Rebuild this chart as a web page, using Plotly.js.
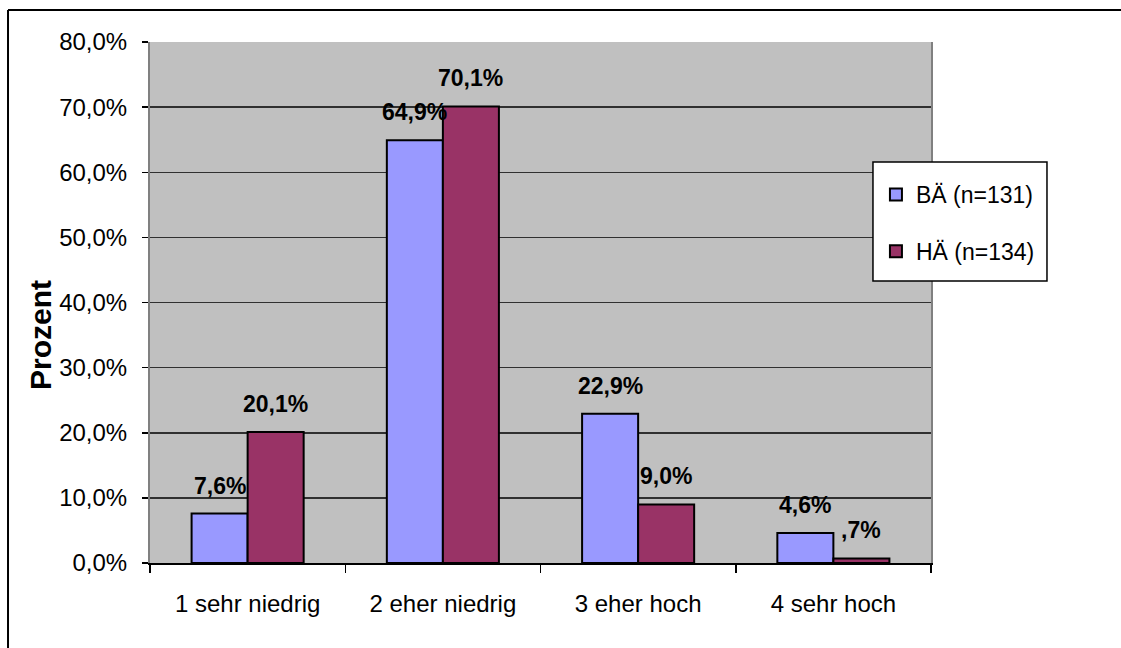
<!DOCTYPE html>
<html>
<head>
<meta charset="utf-8">
<script src="https://cdn.plot.ly/plotly-3.0.1.min.js"></script>
<style>html,body{margin:0;padding:0;background:#fff}#chart{width:1121px;height:648px}</style>
</head>
<body>
<div id="chart"></div>
<script>
const categories = ["1 sehr niedrig", "2 eher niedrig", "3 eher hoch", "4 sehr hoch"];
const seriesNames = ["BÄ (n=131)", "HÄ (n=134)"];
const valuesBA = [7.6, 64.9, 22.9, 4.6];
const valuesHA = [20.1, 70.1, 9.0, 0.7];
const labelsBA = ["7,6%", "64,9%", "22,9%", "4,6%"];
const labelsHA = ["20,1%", "70,1%", "9,0%", ",7%"];
const yTickVals = [0, 10, 20, 30, 40, 50, 60, 70, 80];
const yTickLabels = ["0,0%", "10,0%", "20,0%", "30,0%", "40,0%", "50,0%", "60,0%", "70,0%", "80,0%"];
const yTitle = "Prozent";

const FONT = "'Liberation Sans', Arial, sans-serif";

const traces = [
  {type: 'bar', name: seriesNames[0], x: categories, y: valuesBA, legendgroup: 'a',
   marker: {color: '#9999ff', line: {color: '#000', width: 2}}, hoverinfo: 'skip'},
  {type: 'bar', name: seriesNames[1], x: categories, y: valuesHA, legendgroup: 'b',
   marker: {color: '#993366', line: {color: '#000', width: 2}}, hoverinfo: 'skip'}
];

const annotations = [];
const half = 28;
categories.forEach((c, i) => {
  annotations.push({x: c, y: valuesBA[i], xref: 'x', yref: 'y', text: labelsBA[i], showarrow: false,
    yanchor: 'bottom', xanchor: 'center', xshift: -half, yshift: 13,
    font: {family: FONT, size: 23, color: '#000', weight: 'bold'}});
  annotations.push({x: c, y: valuesHA[i], xref: 'x', yref: 'y', text: labelsHA[i], showarrow: false,
    yanchor: 'bottom', xanchor: 'center', xshift: half, yshift: 13,
    font: {family: FONT, size: 23, color: '#000', weight: 'bold'}});
});
annotations.push({xref: 'paper', yref: 'paper', x: -0.1408, y: 0.4376, text: yTitle, showarrow: false,
  textangle: -90, xanchor: 'center', yanchor: 'middle',
  font: {family: FONT, size: 30, color: '#000', weight: 'bold'}});

const layout = {
  width: 1121, height: 648,
  margin: {l: 150, r: 190, t: 42, b: 85, pad: 0},
  paper_bgcolor: '#fff', plot_bgcolor: '#c0c0c0',
  barmode: 'group', bargap: 0.426, bargroupgap: 0,
  showlegend: true,
  font: {family: FONT, size: 24, color: '#000'},
  xaxis: {type: 'category', showline: true, linecolor: '#000', linewidth: 2, mirror: false,
    ticks: 'outside', ticklen: 8, tickwidth: 1.5, tickcolor: '#000', tickson: 'boundaries',
    showgrid: false, ticklabelstandoff: 18, tickfont: {family: FONT, size: 24, color: '#000'}},
  yaxis: {range: [0, 80], tickvals: yTickVals, ticktext: yTickLabels,
    showline: true, linecolor: '#808080', linewidth: 2, mirror: true,
    ticks: 'outside', ticklen: 6, tickwidth: 1.5, tickcolor: '#000',
    showgrid: true, gridcolor: '#303030', gridwidth: 1.5, zeroline: false,
    ticklabelstandoff: 10, tickfont: {family: FONT, size: 24, color: '#000'}},
  legend: {x: 0.9295, y: 0.7486, xanchor: 'left', yanchor: 'top', bgcolor: 'rgba(0,0,0,0)',
    borderwidth: 0, traceorder: 'grouped', tracegroupgap: 24,
    font: {family: FONT, size: 23, color: '#000'}, itemwidth: 30},
  annotations: annotations,
  shapes: [
    {type: 'rect', xref: 'paper', yref: 'paper', x0: 0.9257, x1: 1.1485, y0: 0.5413, y1: 0.7697,
     fillcolor: '#fff', line: {color: '#000', width: 1.5}, layer: 'above'},
    {type: 'line', xref: 'paper', yref: 'paper', x0: -0.1818, x1: 1.3, y0: 1.0614, y1: 1.0614,
     line: {color: '#000', width: 2}},
    {type: 'line', xref: 'paper', yref: 'paper', x0: -0.1818, x1: -0.1818, y0: 1.0614, y1: -0.2,
     line: {color: '#000', width: 2}}
  ]
};

Plotly.newPlot('chart', traces, layout, {displayModeBar: false, staticPlot: true});
</script>
</body>
</html>
